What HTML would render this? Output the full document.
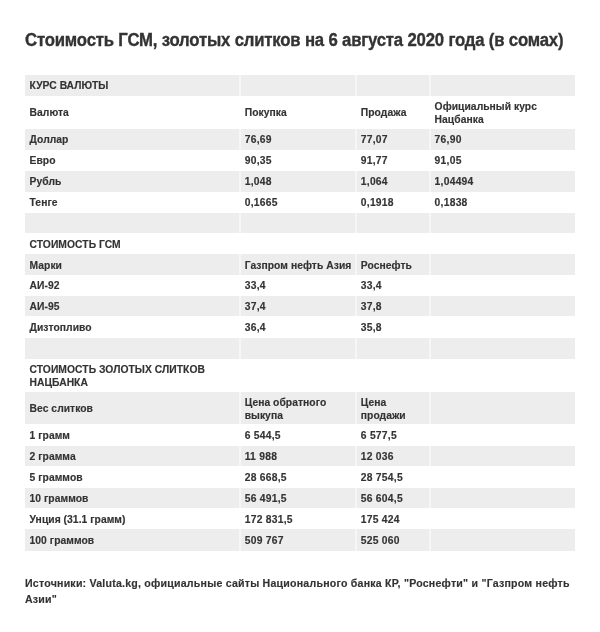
<!DOCTYPE html>
<html><head><meta charset="utf-8">
<style>
html,body{margin:0;padding:0;background:#fff;}
body{width:600px;height:632px;position:relative;overflow:hidden;font-family:"Liberation Sans",sans-serif;color:#333;}
#wrap{position:absolute;left:0;top:0;width:600px;height:632px;background:#fff;filter:grayscale(1);}
.title{position:absolute;left:25px;top:30px;font-size:17.5px;letter-spacing:-0.2px;font-weight:700;white-space:nowrap;color:#333;-webkit-text-stroke:0.35px #333;transform-origin:0 0;transform:scaleX(0.957);}
.g{position:absolute;left:24.75px;width:549.95px;background:#ededed;}
.sep{position:absolute;width:2px;background:#f6f6f6;}
.c{position:absolute;}
.t{position:absolute;font-size:10.3px;letter-spacing:0.05px;line-height:12.5px;font-weight:700;white-space:nowrap;color:#333;-webkit-text-stroke:0.15px #333;}
.n{letter-spacing:0.25px;}
.foot{position:absolute;left:25px;top:575.8px;font-size:10.6px;letter-spacing:0.22px;line-height:15.8px;font-weight:700;color:#333;-webkit-text-stroke:0.15px #333;white-space:nowrap;}
</style></head><body>
<div id="wrap">
<div class="title">Стоимость ГСМ, золотых слитков на 6 августа 2020 года (в сомах)</div>
<div class="g" style="top:74.75px;height:21.15px"></div><div class="sep" style="left:239px;top:74.75px;height:21.15px"></div><div class="sep" style="left:355px;top:74.75px;height:21.15px"></div><div class="sep" style="left:429px;top:74.75px;height:21.15px"></div><div class="t" style="left:29.55px;top:80px">КУРС ВАЛЮТЫ</div><div class="t" style="left:29.55px;top:107px">Валюта</div><div class="t" style="left:244.70px;top:107px">Покупка</div><div class="t" style="left:360.80px;top:107px">Продажа</div><div class="t" style="left:434.60px;top:101px">Официальный курс<br>Нацбанка</div><div class="g" style="top:129.0px;height:20.85px"></div><div class="sep" style="left:239px;top:129.0px;height:20.85px"></div><div class="sep" style="left:355px;top:129.0px;height:20.85px"></div><div class="sep" style="left:429px;top:129.0px;height:20.85px"></div><div class="t" style="left:29.55px;top:134px">Доллар</div><div class="t n" style="left:244.70px;top:134px">76,69</div><div class="t n" style="left:360.80px;top:134px">77,07</div><div class="t n" style="left:434.60px;top:134px">76,90</div><div class="t" style="left:29.55px;top:155px">Евро</div><div class="t n" style="left:244.70px;top:155px">90,35</div><div class="t n" style="left:360.80px;top:155px">91,77</div><div class="t n" style="left:434.60px;top:155px">91,05</div><div class="g" style="top:171.0px;height:20.90px"></div><div class="sep" style="left:239px;top:171.0px;height:20.90px"></div><div class="sep" style="left:355px;top:171.0px;height:20.90px"></div><div class="sep" style="left:429px;top:171.0px;height:20.90px"></div><div class="t" style="left:29.55px;top:176px">Рубль</div><div class="t n" style="left:244.70px;top:176px">1,048</div><div class="t n" style="left:360.80px;top:176px">1,064</div><div class="t n" style="left:434.60px;top:176px">1,04494</div><div class="t" style="left:29.55px;top:197px">Тенге</div><div class="t n" style="left:244.70px;top:197px">0,1665</div><div class="t n" style="left:360.80px;top:197px">0,1918</div><div class="t n" style="left:434.60px;top:197px">0,1838</div><div class="g" style="top:212.5px;height:20.90px"></div><div class="sep" style="left:239px;top:212.5px;height:20.90px"></div><div class="sep" style="left:355px;top:212.5px;height:20.90px"></div><div class="sep" style="left:429px;top:212.5px;height:20.90px"></div><div class="t" style="left:29.55px;top:239px">СТОИМОСТЬ ГСМ</div><div class="g" style="top:254.2px;height:20.70px"></div><div class="sep" style="left:239px;top:254.2px;height:20.70px"></div><div class="sep" style="left:355px;top:254.2px;height:20.70px"></div><div class="sep" style="left:429px;top:254.2px;height:20.70px"></div><div class="t" style="left:29.55px;top:260px">Марки</div><div class="t" style="left:244.70px;top:260px">Газпром нефть Азия</div><div class="t" style="left:360.80px;top:260px">Роснефть</div><div class="t" style="left:29.55px;top:280px">АИ-92</div><div class="t n" style="left:244.70px;top:280px">33,4</div><div class="t n" style="left:360.80px;top:280px">33,4</div><div class="g" style="top:295.6px;height:20.80px"></div><div class="sep" style="left:239px;top:295.6px;height:20.80px"></div><div class="sep" style="left:355px;top:295.6px;height:20.80px"></div><div class="sep" style="left:429px;top:295.6px;height:20.80px"></div><div class="t" style="left:29.55px;top:301px">АИ-95</div><div class="t n" style="left:244.70px;top:301px">37,4</div><div class="t n" style="left:360.80px;top:301px">37,8</div><div class="t" style="left:29.55px;top:322px">Дизтопливо</div><div class="t n" style="left:244.70px;top:322px">36,4</div><div class="t n" style="left:360.80px;top:322px">35,8</div><div class="g" style="top:337.75px;height:20.85px"></div><div class="sep" style="left:239px;top:337.75px;height:20.85px"></div><div class="sep" style="left:355px;top:337.75px;height:20.85px"></div><div class="sep" style="left:429px;top:337.75px;height:20.85px"></div><div class="t" style="left:29.55px;top:364px">СТОИМОСТЬ ЗОЛОТЫХ СЛИТКОВ<br>НАЦБАНКА</div><div class="g" style="top:391.7px;height:32.60px"></div><div class="sep" style="left:239px;top:391.7px;height:32.60px"></div><div class="sep" style="left:355px;top:391.7px;height:32.60px"></div><div class="sep" style="left:429px;top:391.7px;height:32.60px"></div><div class="t" style="left:29.55px;top:403px">Вес слитков</div><div class="t" style="left:244.70px;top:397px">Цена обратного<br>выкупа</div><div class="t" style="left:360.80px;top:397px">Цена<br>продажи</div><div class="t" style="left:29.55px;top:430px">1 грамм</div><div class="t n" style="left:244.70px;top:430px">6 544,5</div><div class="t n" style="left:360.80px;top:430px">6 577,5</div><div class="g" style="top:445.8px;height:20.60px"></div><div class="sep" style="left:239px;top:445.8px;height:20.60px"></div><div class="sep" style="left:355px;top:445.8px;height:20.60px"></div><div class="sep" style="left:429px;top:445.8px;height:20.60px"></div><div class="t" style="left:29.55px;top:451px">2 грамма</div><div class="t n" style="left:244.70px;top:451px">11 988</div><div class="t n" style="left:360.80px;top:451px">12 036</div><div class="t" style="left:29.55px;top:472px">5 граммов</div><div class="t n" style="left:244.70px;top:472px">28 668,5</div><div class="t n" style="left:360.80px;top:472px">28 754,5</div><div class="g" style="top:487.5px;height:20.70px"></div><div class="sep" style="left:239px;top:487.5px;height:20.70px"></div><div class="sep" style="left:355px;top:487.5px;height:20.70px"></div><div class="sep" style="left:429px;top:487.5px;height:20.70px"></div><div class="t" style="left:29.55px;top:493px">10 граммов</div><div class="t n" style="left:244.70px;top:493px">56 491,5</div><div class="t n" style="left:360.80px;top:493px">56 604,5</div><div class="t" style="left:29.55px;top:514px">Унция (31.1 грамм)</div><div class="t n" style="left:244.70px;top:514px">172 831,5</div><div class="t n" style="left:360.80px;top:514px">175 424</div><div class="g" style="top:529.2px;height:21.40px"></div><div class="sep" style="left:239px;top:529.2px;height:21.40px"></div><div class="sep" style="left:355px;top:529.2px;height:21.40px"></div><div class="sep" style="left:429px;top:529.2px;height:21.40px"></div><div class="t" style="left:29.55px;top:535px">100 граммов</div><div class="t n" style="left:244.70px;top:535px">509 767</div><div class="t n" style="left:360.80px;top:535px">525 060</div>

<div class="foot">Источники: Valuta.kg, официальные сайты Национального банка КР, "Роснефти" и "Газпром нефть<br>Азии"</div>
</div>
</body></html>
